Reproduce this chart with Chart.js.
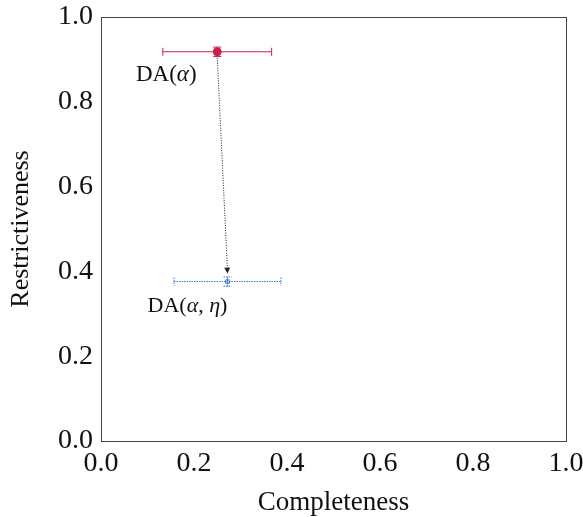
<!DOCTYPE html>
<html><head><meta charset="utf-8">
<script src="https://cdn.jsdelivr.net/npm/chart.js@4"></script>
<style>html,body{margin:0;padding:0;background:#fff}#c{display:block}</style>
</head><body>
<canvas id="c" width="583" height="517"></canvas>
<script>
const seriesNames = ['DA(α)', 'DA(α, η)'];
const completeness = [0.25, 0.272];
const restrictiveness = [0.918, 0.376];
const completenessErr = [0.117, 0.115];
const restrictivenessErr = [0.011, 0.011];
const xTicks = [0.0, 0.2, 0.4, 0.6, 0.8, 1.0];
const yTicks = [0.0, 0.2, 0.4, 0.6, 0.8, 1.0];

const colors = ['#cc1f4f', '#3a6fd8'];
const FONT = '"Liberation Serif", "DejaVu Serif", serif';

function drawMixed(ctx, text, cx, cy, size) {
  const parts = [];
  for (const ch of text) {
    const it = /[α-ω]/.test(ch);
    const last = parts[parts.length - 1];
    if (last && last.it === it) last.t += ch; else parts.push({t: ch, it});
  }
  let w = 0;
  parts.forEach(p => { ctx.font = (p.it ? 'italic ' : '') + size + 'px ' + FONT; p.w = ctx.measureText(p.t).width; w += p.w; });
  let x = cx - w / 2;
  ctx.textAlign = 'left'; ctx.textBaseline = 'middle';
  parts.forEach(p => { ctx.font = (p.it ? 'italic ' : '') + size + 'px ' + FONT; ctx.fillText(p.t, x, cy); x += p.w; });
}

function noOverflow(s) { s.paddingTop = 0; s.paddingBottom = 0; s.paddingLeft = 0; s.paddingRight = 0; }

const extras = {
  id: 'extras',
  afterDatasetsDraw(chart) {
    const ctx = chart.ctx, xs = chart.scales.x, ys = chart.scales.y, a = chart.chartArea;
    ctx.save();
    ctx.strokeStyle = '#444'; ctx.lineWidth = 1;
    ctx.strokeRect(Math.round(a.left)+0.5, Math.round(a.top)+0.5, Math.round(a.right-a.left), Math.round(a.bottom-a.top));
    for (let i = 0; i < completeness.length; i++) {
      const px = xs.getPixelForValue(completeness[i]), py = ys.getPixelForValue(restrictiveness[i]);
      const x0 = xs.getPixelForValue(completeness[i]-completenessErr[i]);
      const x1 = xs.getPixelForValue(completeness[i]+completenessErr[i]);
      const y0 = ys.getPixelForValue(restrictiveness[i]-restrictivenessErr[i]);
      const y1 = ys.getPixelForValue(restrictiveness[i]+restrictivenessErr[i]);
      ctx.strokeStyle = colors[i]; ctx.lineWidth = 1;
      ctx.setLineDash(i === 1 ? [1.5, 1] : []);
      ctx.beginPath();
      ctx.moveTo(x0, py); ctx.lineTo(x1, py);
      ctx.moveTo(px, y0); ctx.lineTo(px, y1);
      ctx.stroke();
      ctx.beginPath();
      ctx.moveTo(x0, py-4); ctx.lineTo(x0, py+4);
      ctx.moveTo(x1, py-4); ctx.lineTo(x1, py+4);
      ctx.moveTo(px-4, y0); ctx.lineTo(px+4, y0);
      ctx.moveTo(px-4, y1); ctx.lineTo(px+4, y1);
      ctx.stroke();
      ctx.setLineDash([]);
    }
    const ax = xs.getPixelForValue(completeness[0]), ay = ys.getPixelForValue(restrictiveness[0]) + 6;
    const bx = xs.getPixelForValue(completeness[1]), by = ys.getPixelForValue(restrictiveness[1]) - 8;
    ctx.strokeStyle = '#222'; ctx.lineWidth = 1; ctx.setLineDash([1, 1.5]);
    ctx.beginPath(); ctx.moveTo(ax, ay); ctx.lineTo(bx, by - 4); ctx.stroke();
    ctx.setLineDash([]);
    const ang = Math.atan2(by - ay, bx - ax);
    ctx.fillStyle = '#222';
    ctx.beginPath();
    ctx.moveTo(bx, by);
    ctx.lineTo(bx - 6*Math.cos(ang) + 3*Math.sin(ang), by - 6*Math.sin(ang) - 3*Math.cos(ang));
    ctx.lineTo(bx - 6*Math.cos(ang) - 3*Math.sin(ang), by - 6*Math.sin(ang) + 3*Math.cos(ang));
    ctx.closePath(); ctx.fill();
    ctx.fillStyle = '#111';
    drawMixed(ctx, seriesNames[0], xs.getPixelForValue(completeness[0]) - 51, ys.getPixelForValue(restrictiveness[0]) + 23, 23);
    drawMixed(ctx, seriesNames[1], xs.getPixelForValue(completeness[1]) - 40, ys.getPixelForValue(restrictiveness[1]) + 25, 22);
    ctx.restore();
  }
};

new Chart(document.getElementById('c'), {
  type: 'scatter',
  data: {
    datasets: seriesNames.map((n, i) => ({
      label: n,
      data: [{x: completeness[i], y: restrictiveness[i]}],
      borderColor: colors[i],
      pointRadius: i === 0 ? 4 : 2.5,
      pointStyle: i === 0 ? 'circle' : 'rect',
      backgroundColor: i === 0 ? colors[0] : 'rgba(0,0,0,0)',
      borderWidth: 1
    }))
  },
  options: {
    responsive: false, animation: false,
    layout: { padding: { top: 17, right: 17, left: 0, bottom: 0 } },
    plugins: { legend: { display: false }, tooltip: { enabled: false } },
    scales: {
      x: {
        type: 'linear', min: 0, max: 1,
        afterBuildTicks: s => { s.ticks = xTicks.map(v => ({value: v})); },
        afterFit: s => { s.height = 76; noOverflow(s); },
        grid: { display: false, drawTicks: false },
        border: { display: false },
        ticks: { color: '#111', font: { family: FONT, size: 28 }, padding: 6, maxRotation: 0, callback: v => v.toFixed(1) },
        title: { display: true, text: 'Completeness', color: '#111', font: { family: FONT, size: 27 }, padding: { top: 9, bottom: -2.5 } }
      },
      y: {
        type: 'linear', min: 0, max: 1,
        afterBuildTicks: s => { s.ticks = yTicks.map(v => ({value: v})); },
        afterFit: s => { s.width = 101; noOverflow(s); },
        grid: { display: false, drawTicks: false },
        border: { display: false },
        ticks: { color: '#111', font: { family: FONT, size: 28 }, padding: 8, callback: v => v.toFixed(1) },
        title: { display: true, text: 'Restrictiveness', color: '#111', font: { family: FONT, size: 26 }, padding: { top: 6, bottom: 2 } }
      }
    }
  },
  plugins: [extras]
});
</script>
</body></html>
